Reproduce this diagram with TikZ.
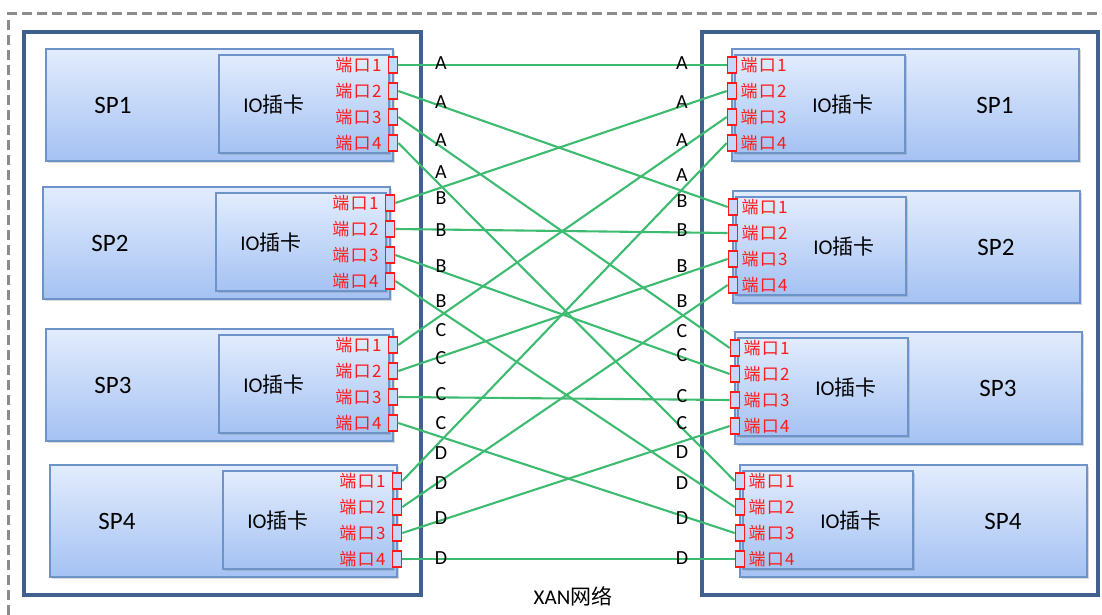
\documentclass[tikz,border=0pt]{standalone}
\usepackage{fontspec}
\setmainfont{Carlito}
\newfontfamily\cjk{Noto Sans CJK SC}
\newfontfamily\cjkport[LetterSpace=8]{Noto Sans CJK SC}
\usetikzlibrary{shadows}
\definecolor{boxtop}{HTML}{E2ECFD}
\definecolor{boxbot}{HTML}{A5C2F3}
\definecolor{boxedge}{HTML}{6E93C9}
\definecolor{frameblue}{HTML}{40608E}
\definecolor{linkgreen}{HTML}{3DBB70}
\definecolor{portred}{HTML}{FF1A1A}
\definecolor{portfill}{HTML}{C5D8F7}
\tikzset{
  spbox/.style={draw=boxedge, line width=1.6pt, top color=boxtop, bottom color=boxbot,
    drop shadow={shadow xshift=1.5pt, shadow yshift=-1.5pt, opacity=0.3}},
  frame/.style={draw=frameblue, line width=3.4pt},
  outline/.style={draw=gray!90, line width=3pt, dash pattern=on 10pt off 5pt},
  port/.style={draw=portred, line width=1.6pt, fill=portfill, minimum width=9pt, minimum height=16pt, inner sep=0pt},
  porttext/.style={text=portred, font=\cjkport\fontsize{17}{17}\selectfont, inner sep=1pt},
  splabel/.style={font=\fontsize{25}{25}\selectfont},
  cardlabel/.style={font=\fontsize{21}{21}\selectfont},
  tag/.style={font=\fontsize{20}{20}\selectfont, inner sep=0pt},
  link/.style={draw=linkgreen, line width=2.1pt}
}
\begin{document}
\begin{tikzpicture}[x=1pt, y=-1pt]
  \useasboundingbox (0,0) rectangle (1102,615);
  \draw[outline] (8,615) -- (8,14) -- (1102,14);
  \draw[frame] (24,32) rectangle (421,595);
  \draw[frame] (702,32) rectangle (1098,595);

  % left side
  \foreach \i/\bx/\by in {1/46/49, 2/43/187, 3/46/329, 4/50/465} {
    \draw[spbox] (\bx,\by) rectangle +(347,112);
    \node[splabel] (LSP\i) at (\bx+67,\by+56) {SP\i};
    \draw[spbox] (\bx+173,\by+6) rectangle +(170,98);
    \node[cardlabel] (LIO\i) at (\bx+228,\by+56) {IO{\cjk 插卡}};
    \foreach \j in {1,...,4} {
      \node[port] (L\i-\j) at (\bx+347,\by+16+26*\j-26) {};
      \node[porttext, anchor=east] (LT\i-\j) at ([xshift=-5pt]L\i-\j.west) {端口\j};
    }
  }

  % right side
  \foreach \i/\bx/\by in {1/732/49, 2/733/191, 3/735/332, 4/740/465} {
    \draw[spbox] (\bx,\by) rectangle +(347,112);
    \node[splabel] (RSP\i) at (\bx+263,\by+56) {SP\i};
    \draw[spbox] (\bx+3,\by+6) rectangle +(170,98);
    \node[cardlabel] (RIO\i) at (\bx+111,\by+56) {IO{\cjk 插卡}};
    \foreach \j in {1,...,4} {
      \node[port] (R\i-\j) at (\bx,\by+16+26*\j-26) {};
      \node[porttext, anchor=west] (RT\i-\j) at ([xshift=2pt]R\i-\j.east) {端口\j};
    }
  }

  % XAN links
  \foreach \i in {1,...,4}
    \foreach \j in {1,...,4}
      \draw[link] (L\i-\j.east) -- (R\j-\i.west);

  \foreach \t/\y [count=\n] in {A/63, A/102, A/140, A/172, B/198, B/230, B/266, B/301,
      C/330, C/358, C/394, C/423, D/453, D/483, D/518, D/558}
    \node[tag] (lt\n) at (441,\y) {\t};
  \foreach \t/\y [count=\n] in {A/63, A/102, A/140, A/175, B/201, B/230, B/266, B/301,
      C/331, C/355, C/396, C/423, D/452, D/483, D/518, D/558}
    \node[tag] (rt\n) at (682,\y) {\t};

  \node[cardlabel] (xan) at (573,596) {XAN{\cjk 网络}};
\end{tikzpicture}
\end{document}
